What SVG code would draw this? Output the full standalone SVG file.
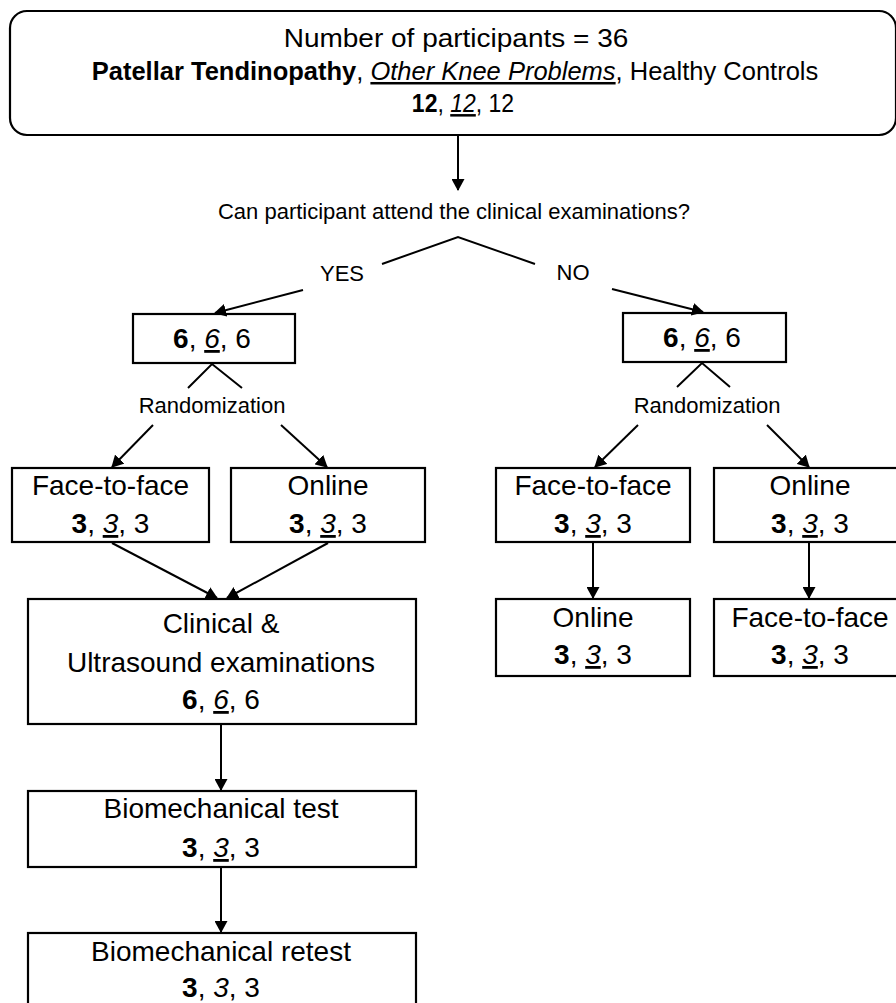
<svg xmlns="http://www.w3.org/2000/svg" width="896" height="1003" viewBox="0 0 896 1003">
  <style>
    .box { fill: #ffffff; stroke: #000000; stroke-width: 2.2; }
    .link { fill: none; stroke: #000000; stroke-width: 2; }
    .arrow { marker-end: url(#head); }
    text { font-family: "Liberation Sans", Arial, sans-serif; fill: #000000; text-anchor: middle; }
    .t-main { font-size: 28px; }
    .t-small { font-size: 22px; }
    .t-head { font-size: 25px; }
    .b { font-weight: bold; }
    .iu { font-style: italic; text-decoration: underline; }
    .i { font-style: italic; }
  </style>
  <defs>
    <marker id="head" viewBox="0 0 12 13" refX="11" refY="6.5" markerWidth="12" markerHeight="13" markerUnits="userSpaceOnUse" orient="auto">
      <path d="M0,0 L12,6.5 L0,13 z" fill="#000000"/>
    </marker>
  </defs>

  <rect width="896" height="1003" fill="#ffffff"/>

  <!-- header -->
  <g id="participants">
    <rect class="box" x="10" y="11" width="886" height="124" rx="17" ry="17"/>
    <text class="t-head" transform="translate(456 47) scale(1.12 1)">Number of participants = 36</text>
    <text class="t-head" transform="translate(455 80) scale(1.02 1)"><tspan class="b">Patellar Tendinopathy</tspan>, <tspan class="iu">Other Knee Problems</tspan>, Healthy Controls</text>
    <text class="t-head" transform="translate(463 112) scale(0.92 1)"><tspan class="b">12</tspan>, <tspan class="iu">12</tspan>, 12</text>
  </g>

  <!-- decision labels -->
  <g id="question">
    <text class="t-small" x="454" y="219">Can participant attend the clinical examinations?</text>
    <text class="t-small" x="342" y="281">YES</text>
    <text class="t-small" x="573" y="280">NO</text>
  </g>

  <!-- clinic branch -->
  <g id="yes-group">
    <rect class="box" x="133" y="314" width="162" height="49"/>
    <text class="t-main" x="212" y="348"><tspan class="b">6</tspan>, <tspan class="iu">6</tspan>, 6</text>
  </g>
  <text class="t-small" x="212" y="413">Randomization</text>

  <g id="yes-face">
    <rect class="box" x="12" y="468" width="197" height="74"/>
    <text class="t-main" x="110.5" y="495">Face-to-face</text>
    <text class="t-main" x="110.5" y="533"><tspan class="b">3</tspan>, <tspan class="iu">3</tspan>, 3</text>
  </g>
  <g id="yes-online">
    <rect class="box" x="231" y="468" width="194" height="74"/>
    <text class="t-main" x="328" y="495">Online</text>
    <text class="t-main" x="328" y="533"><tspan class="b">3</tspan>, <tspan class="iu">3</tspan>, 3</text>
  </g>

  <g id="clinical">
    <rect class="box" x="28" y="599" width="388" height="125"/>
    <text class="t-main" x="221" y="633">Clinical &amp;</text>
    <text class="t-main" x="221" y="672">Ultrasound examinations</text>
    <text class="t-main" x="221" y="709"><tspan class="b">6</tspan>, <tspan class="iu">6</tspan>, 6</text>
  </g>
  <g id="biomech-test">
    <rect class="box" x="28" y="791" width="388" height="76"/>
    <text class="t-main" x="221" y="818">Biomechanical test</text>
    <text class="t-main" x="221" y="857"><tspan class="b">3</tspan>, <tspan class="iu">3</tspan>, 3</text>
  </g>
  <g id="biomech-retest">
    <rect class="box" x="28" y="933" width="388" height="80"/>
    <text class="t-main" x="221" y="961">Biomechanical retest</text>
    <text class="t-main" x="221" y="997"><tspan class="b">3</tspan>, <tspan class="i">3</tspan>, 3</text>
  </g>

  <!-- remote branch -->
  <g id="no-group">
    <rect class="box" x="623" y="313" width="163" height="49"/>
    <text class="t-main" x="702" y="347"><tspan class="b">6</tspan>, <tspan class="iu">6</tspan>, 6</text>
  </g>
  <text class="t-small" x="707" y="413">Randomization</text>

  <g id="no-face">
    <rect class="box" x="496" y="468" width="194" height="74"/>
    <text class="t-main" x="593" y="495">Face-to-face</text>
    <text class="t-main" x="593" y="533"><tspan class="b">3</tspan>, <tspan class="iu">3</tspan>, 3</text>
  </g>
  <g id="no-online">
    <rect class="box" x="714" y="468" width="192" height="74"/>
    <text class="t-main" x="810" y="495">Online</text>
    <text class="t-main" x="810" y="533"><tspan class="b">3</tspan>, <tspan class="iu">3</tspan>, 3</text>
  </g>
  <g id="no-face-then-online">
    <rect class="box" x="496" y="599" width="194" height="77"/>
    <text class="t-main" x="593" y="627">Online</text>
    <text class="t-main" x="593" y="664"><tspan class="b">3</tspan>, <tspan class="iu">3</tspan>, 3</text>
  </g>
  <g id="no-online-then-face">
    <rect class="box" x="714" y="599" width="192" height="77"/>
    <text class="t-main" x="810" y="627">Face-to-face</text>
    <text class="t-main" x="810" y="664"><tspan class="b">3</tspan>, <tspan class="iu">3</tspan>, 3</text>
  </g>

  <!-- connectors -->
  <g id="connectors">
    <line class="link arrow" x1="458" y1="136" x2="458" y2="190"/>
    <polyline class="link" points="382,264 458,237 535,264"/>
    <line class="link arrow" x1="303" y1="290" x2="215" y2="313"/>
    <line class="link arrow" x1="612" y1="289" x2="703" y2="312"/>

    <polyline class="link" points="188,388 212,364 242,388"/>
    <polyline class="link" points="677,387 702,363 730,387"/>

    <line class="link arrow" x1="153" y1="425" x2="112" y2="467"/>
    <line class="link arrow" x1="281" y1="425" x2="327" y2="467"/>
    <line class="link arrow" x1="638" y1="425" x2="595" y2="467"/>
    <line class="link arrow" x1="767" y1="425" x2="809" y2="467"/>

    <line class="link arrow" x1="112" y1="543" x2="217" y2="598"/>
    <line class="link arrow" x1="328" y1="543" x2="227" y2="598"/>

    <line class="link arrow" x1="221" y1="725" x2="221" y2="790"/>
    <line class="link arrow" x1="221" y1="868" x2="221" y2="932"/>

    <line class="link arrow" x1="593" y1="543" x2="593" y2="598"/>
    <line class="link arrow" x1="809" y1="543" x2="809" y2="598"/>
  </g>
</svg>
